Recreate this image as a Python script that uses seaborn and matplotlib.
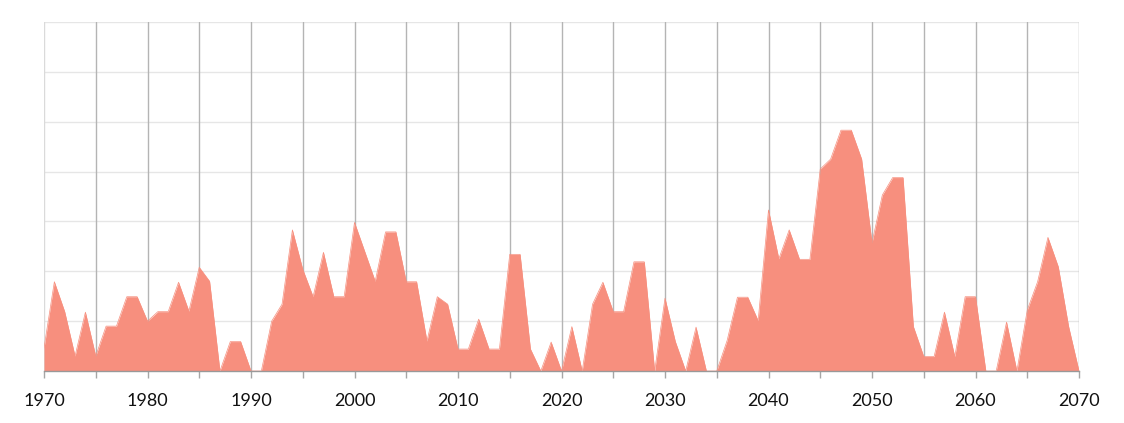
import numpy as np
import pandas as pd
import matplotlib
matplotlib.use("Agg")
import matplotlib.pyplot as plt
import seaborn as sns

# データ（グリッド1目盛 = 10）
years = list(range(1970, 2071))
values = [
    4.6, 17.9, 11.9, 3.0, 11.8, 3.0, 9.0, 9.0, 14.9, 14.9,   # 1970-1979
    10.0, 11.9, 11.9, 17.8, 12.0, 20.8, 18.0, 0.0, 5.9, 5.9,  # 1980-1989
    0.0, 0.0, 10.0, 13.4, 28.3, 20.4, 14.9, 23.8, 14.9, 14.9,  # 1990-1999
    29.8, 23.9, 18.0, 27.9, 27.9, 17.9, 17.9, 6.0, 14.9, 13.4,  # 2000-2009
    4.4, 4.4, 10.4, 4.4, 4.4, 23.4, 23.4, 4.4, 0.0, 5.8,       # 2010-2019
    0.0, 8.9, 0.0, 13.4, 17.8, 11.9, 11.9, 21.9, 21.9, 0.0,    # 2020-2029
    14.6, 5.9, 0.0, 8.8, 0.0, 0.0, 6.1, 14.8, 14.8, 10.1,      # 2030-2039
    32.3, 22.5, 28.3, 22.4, 22.4, 40.5, 42.5, 48.3, 48.3, 42.5,  # 2040-2049
    25.7, 35.3, 38.8, 38.8, 8.9, 2.9, 2.9, 11.8, 2.9, 14.9,    # 2050-2059
    14.9, 0.0, 0.0, 9.8, 0.0, 12.2, 17.9, 26.8, 20.9, 8.9,     # 2060-2069
    0.0,                                                      # 2070
]
minor_years = list(range(1970, 2071, 5))

df = pd.DataFrame({"year": years, "value": values})

fill_color = "#F78F7E"

sns.set_theme(style="white")
plt.rcParams["font.family"] = ["Lato", "DejaVu Sans"]

fig = plt.figure(figsize=(11.24, 4.23), dpi=100)
ax = fig.add_axes([44 / 1124, 52 / 423, 1035 / 1124, 349 / 423])

# 水平グリッド
for yv in range(10, 71, 10):
    ax.axhline(yv, color="#E6E6E6", lw=1.0, zorder=0)

# 垂直グリッド（5年ごと）
for yr in minor_years:
    col = "#DADADA" if yr == 1970 else "#B4B4B4"
    ax.axvline(yr, color=col, lw=1.0, zorder=0)

# 面グラフ
ax.fill_between(df["year"], df["value"], 0, color=fill_color, lw=0, zorder=2)
sns.lineplot(data=df, x="year", y="value", color=fill_color, lw=0.5, ax=ax, zorder=3)

ax.set_xlim(1970, 2070)
ax.set_ylim(0, 70)
ax.set_xlabel("")
ax.set_ylabel("")

for s in ["top", "right", "left"]:
    ax.spines[s].set_visible(False)
ax.spines["bottom"].set_color("#999999")
ax.spines["bottom"].set_linewidth(1.0)
ax.spines["bottom"].set_zorder(4)

ax.set_yticks([])
ax.set_xticks(minor_years)
ax.set_xticklabels([str(y) if y % 10 == 0 else "" for y in minor_years])
ax.tick_params(axis="x", direction="out", length=5, width=1.0, color="#A6A6A6",
               labelsize=13, labelcolor="#111111", pad=11, bottom=True)

fig.savefig("out.png", dpi=100)
